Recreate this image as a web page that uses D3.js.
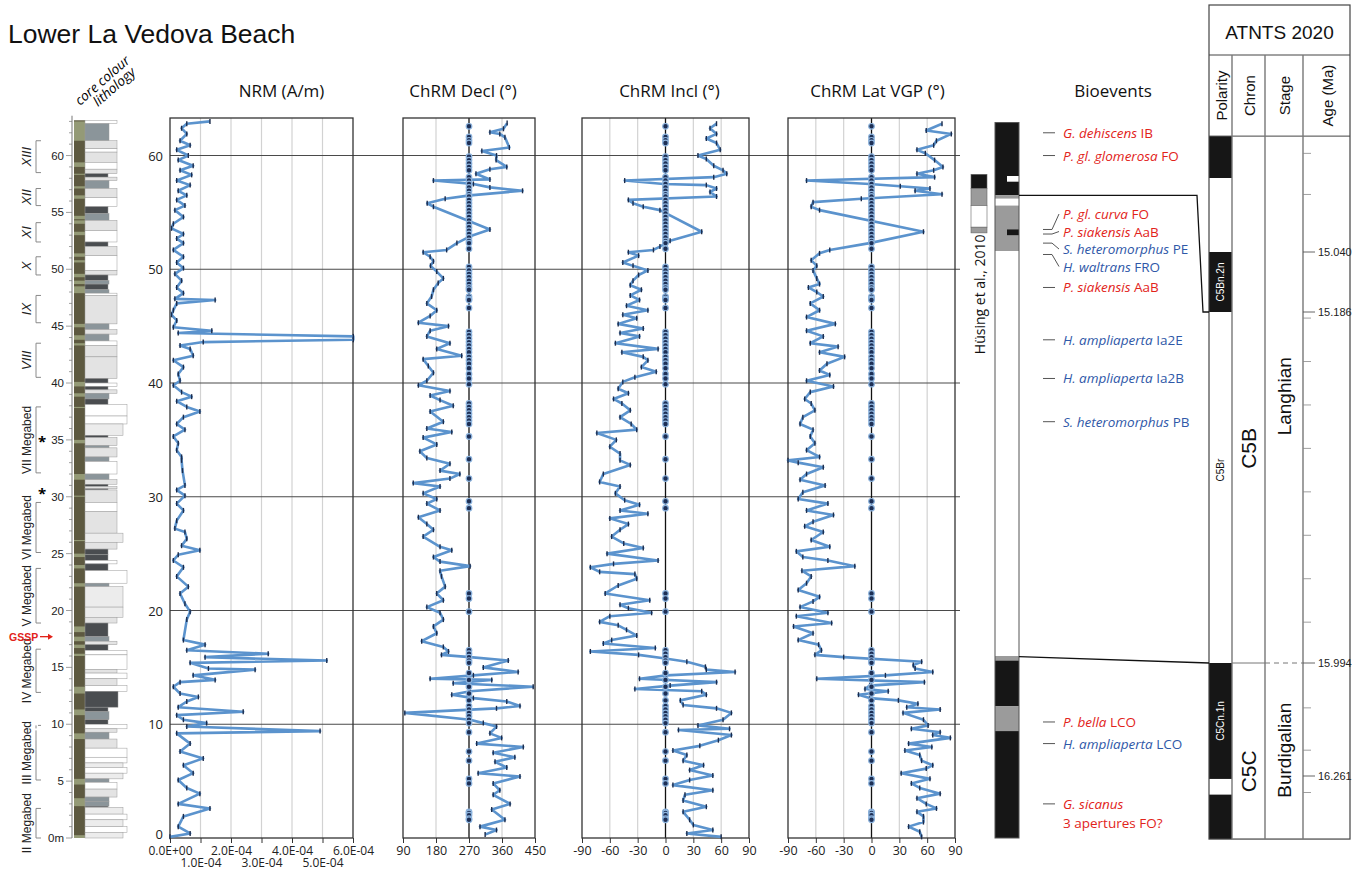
<!DOCTYPE html>
<html>
<head>
<meta charset="utf-8">
<title>Lower La Vedova Beach</title>
<script src="https://cdn.jsdelivr.net/npm/d3@7"></script>
<style>
	body { margin: 0; background: #fff; }
	svg { display: block; }
</style>
</head>
<body>
<div id="chart"></div>
<script>
// [stratigraphic height (m), value]
const nrm = [[63.0,13.1e-5],[62.8,5.5e-5],[62.4,3.8e-5],[61.9,5.5e-5],[61.3,3.3e-5],[60.9,6.6e-5],[60.5,2.2e-5],[60.0,6.0e-5],[59.6,2.7e-5],[59.1,7.6e-5],[58.7,3.3e-5],[58.3,7.1e-5],[57.8,2.2e-5],[57.4,6.6e-5],[56.9,2.7e-5],[56.5,5.5e-5],[56.1,2.2e-5],[55.6,4.9e-5],[55.2,1.6e-5],[54.6,4.4e-5],[54.0,1.1e-5],[53.6,0.5e-5],[53.1,4.4e-5],[52.7,2.2e-5],[52.3,4.4e-5],[51.7,1.1e-5],[51.1,4.4e-5],[50.6,2.2e-5],[50.1,4.4e-5],[49.6,1.6e-5],[49.0,3.8e-5],[48.4,2.2e-5],[47.9,4.4e-5],[47.4,1.6e-5],[47.3,14.8e-5],[47.0,2.2e-5],[46.4,1.1e-5],[46.0,0.5e-5],[45.5,2.2e-5],[44.9,1.1e-5],[44.6,13.7e-5],[44.4,2.7e-5],[44.1,60.1e-5],[43.8,60.1e-5],[43.6,10.9e-5],[43.3,3.3e-5],[43.0,6.6e-5],[42.4,7.6e-5],[42.0,1.1e-5],[41.4,4.4e-5],[40.8,2.7e-5],[40.2,3.3e-5],[39.8,1.1e-5],[39.2,3.8e-5],[38.8,7.1e-5],[38.4,2.2e-5],[37.9,5.5e-5],[37.5,9.8e-5],[37.0,4.4e-5],[36.4,2.2e-5],[35.9,4.9e-5],[35.3,1.1e-5],[34.7,2.7e-5],[34.1,2.2e-5],[33.5,3.8e-5],[33.2,3.8e-5],[32.3,4.1e-5],[31.0,4.9e-5],[30.6,2.2e-5],[30.1,4.9e-5],[29.4,2.2e-5],[28.8,4.4e-5],[27.9,2.2e-5],[27.2,1.6e-5],[26.9,4.9e-5],[26.3,5.5e-5],[25.7,3.8e-5],[25.3,9.8e-5],[24.9,2.7e-5],[24.4,1.1e-5],[23.8,4.4e-5],[23.0,2.2e-5],[22.1,6.0e-5],[21.5,3.3e-5],[20.6,4.9e-5],[19.9,6.6e-5],[19.2,5.5e-5],[17.4,4.4e-5],[17.0,11.5e-5],[16.5,5.5e-5],[16.2,32.2e-5],[15.9,11.5e-5],[15.6,51.4e-5],[15.4,6.6e-5],[14.9,12.6e-5],[14.8,27.9e-5],[14.3,7.6e-5],[13.9,14.8e-5],[13.7,3.3e-5],[13.3,1.1e-5],[12.7,3.3e-5],[12.4,9.3e-5],[12.0,5.5e-5],[11.5,2.7e-5],[11.1,24.0e-5],[10.8,2.2e-5],[10.4,4.4e-5],[10.1,12.0e-5],[9.8,5.5e-5],[9.4,49.2e-5],[9.2,2.2e-5],[8.3,6.6e-5],[7.6,3.3e-5],[7.0,10.9e-5],[6.4,4.4e-5],[5.7,7.6e-5],[5.1,2.7e-5],[4.4,5.5e-5],[3.9,9.8e-5],[3.0,2.7e-5],[2.6,13.1e-5],[1.9,4.4e-5],[1.0,2.7e-5],[0.4,6.6e-5],[0.1,0]];

const decl = [[62.85,374],[62.35,364],[62.05,327],[61.9,354],[61.6,368],[60.7,380],[60.4,305],[60.0,345],[59.6,344],[59.0,373],[58.8,327],[58.4,289],[57.9,327],[57.8,173],[57.5,282],[57.2,327],[56.9,416],[56.5,273],[56.2,205],[55.8,156],[55.5,173],[53.5,327],[52.9,273],[52.3,237],[51.7,209],[51.5,145],[51.1,164],[50.7,173],[50.3,165],[49.8,182],[49.2,200],[48.8,186],[48.2,173],[47.6,168],[47.0,155],[46.4,182],[45.9,164],[45.3,132],[45.0,214],[44.6,164],[44.1,155],[43.5,218],[43.0,182],[42.4,250],[42.1,145],[41.5,159],[40.9,173],[40.2,155],[39.8,132],[39.3,218],[38.9,164],[38.5,191],[38.0,227],[37.5,164],[36.6,200],[36.0,155],[35.7,223],[35.2,145],[34.6,182],[34.0,136],[33.4,155],[32.9,218],[32.3,191],[32.0,245],[31.6,218],[31.2,118],[30.9,191],[30.3,145],[29.8,182],[29.4,155],[28.8,191],[28.2,132],[27.6,155],[27.1,173],[26.5,145],[25.6,191],[25.3,223],[24.7,173],[24.3,191],[23.9,273],[23.5,191],[23.0,195],[22.1,205],[21.5,182],[20.9,200],[20.3,155],[19.8,191],[19.2,200],[18.6,173],[18.0,182],[17.3,141],[16.8,200],[16.4,214],[16.1,195],[15.9,273],[15.6,377],[15.0,309],[14.6,404],[14.3,282],[14.0,164],[13.9,332],[13.6,227],[13.3,445],[12.9,273],[12.6,223],[12.3,282],[12.0,373],[11.6,409],[11.4,345],[11.0,95],[10.4,273],[10.1,309],[9.8,345],[9.2,327],[8.8,359],[8.3,291],[8.0,418],[7.5,336],[7.1,395],[6.7,341],[6.2,373],[5.7,295],[5.4,409],[4.8,336],[4.2,354],[3.8,336],[3.0,382],[2.5,332],[1.6,368],[1.0,300],[0.7,345],[0.3,314]];

const incl = [[62.8,55],[62.4,48],[61.9,55],[61.5,44],[61.1,55],[60.5,59],[60.0,35],[59.7,44],[59.1,52],[58.7,62],[58.4,66],[58.1,52],[57.8,-44],[57.5,-2],[57.4,44],[57.1,55],[56.8,48],[56.4,55],[56.1,-40],[55.8,-35],[55.5,-24],[55.2,-6],[53.3,39],[52.5,5],[52.0,-6],[51.7,-13],[51.5,-40],[51.2,-29],[50.6,-46],[50.3,-35],[49.9,-19],[49.5,-29],[49.0,-35],[48.6,-38],[48.2,-26],[47.7,-38],[47.3,-28],[46.8,-42],[46.4,-19],[46.0,-46],[45.7,-31],[45.2,-51],[44.8,-24],[44.4,-49],[44.1,-28],[43.5,-54],[43.0,-8],[42.7,-47],[42.3,-24],[42.0,-19],[41.4,-26],[41.0,-10],[40.5,-33],[40.1,-46],[39.5,-51],[39.1,-40],[38.6,-56],[38.2,-47],[37.6,-38],[37.0,-49],[36.4,-37],[35.9,-31],[35.6,-74],[35.0,-53],[34.4,-60],[33.8,-49],[33.2,-49],[32.8,-38],[32.0,-67],[31.3,-71],[30.9,-49],[30.3,-54],[29.7,-44],[29.3,-28],[28.8,-49],[28.5,-19],[28.1,-60],[27.6,-40],[27.1,-49],[26.5,-58],[25.9,-45],[25.5,-24],[25.0,-63],[24.4,-8],[24.1,-56],[23.8,-81],[23.4,-71],[23.2,-33],[22.8,-31],[22.2,-51],[21.5,-65],[20.9,-17],[20.5,-49],[20.2,-40],[19.8,-15],[19.5,-60],[19.0,-71],[18.7,-51],[18.3,-42],[17.8,-31],[17.4,-58],[17.1,-67],[16.7,-11],[16.4,-81],[16.1,-29],[15.8,-2],[15.5,23],[15.05,43],[14.8,44],[14.6,75],[14.3,1],[14.0,-28],[13.7,55],[13.4,5],[13.1,-33],[12.9,39],[12.6,44],[12.1,16],[11.7,19],[11.4,55],[11.0,71],[10.4,62],[9.9,35],[9.6,69],[9.5,14],[9.05,71],[8.6,57],[8.1,37],[7.7,8],[7.3,23],[6.8,19],[6.4,41],[5.97,26],[5.5,51],[5.1,26],[4.65,8],[4.2,51],[3.8,21],[3.3,19],[2.75,44],[2.3,19],[1.6,26],[1.15,30],[0.7,51],[0.4,23],[0.1,60]];

const vgp = [[62.8,76],[62.2,59],[61.9,86],[61.3,70],[60.9,67],[60.5,49],[60.2,58],[59.6,68],[59.0,77],[58.7,67],[58.4,49],[58.1,68],[57.8,-70],[57.5,-2],[57.3,31],[57.1,63],[56.9,47],[56.6,76],[56.2,-11],[55.9,-63],[55.5,-65],[55.2,-56],[53.3,56],[52.3,-2],[51.7,-45],[51.4,-56],[50.8,-65],[50.3,-59],[49.9,-63],[49.2,-59],[48.7,-56],[48.4,-68],[48.0,-59],[47.6,-52],[47.0,-66],[46.4,-56],[45.8,-70],[45.2,-39],[44.6,-70],[44.1,-52],[43.5,-66],[43.2,-36],[42.7,-56],[42.3,-29],[41.7,-48],[41.1,-56],[40.7,-45],[40.2,-70],[39.7,-41],[39.2,-66],[38.6,-72],[38.2,-65],[37.6,-61],[37.0,-74],[36.4,-77],[35.9,-63],[35.3,-66],[34.7,-61],[34.1,-70],[33.5,-56],[33.2,-90],[33.0,-79],[32.6,-52],[32.0,-70],[31.5,-77],[31.0,-50],[30.4,-74],[29.8,-79],[29.4,-47],[28.8,-70],[28.4,-41],[27.8,-63],[27.4,-72],[26.9,-52],[26.2,-65],[25.6,-45],[25.2,-81],[24.7,-74],[24.4,-47],[23.9,-18],[23.5,-75],[23.0,-65],[22.4,-70],[21.8,-79],[21.2,-56],[20.8,-63],[20.3,-77],[19.8,-47],[19.5,-81],[18.9,-43],[18.6,-84],[18.0,-63],[17.4,-79],[17.0,-57],[16.5,-54],[16.1,-61],[15.9,-30],[15.5,54],[15.2,45],[14.9,47],[14.6,66],[14.3,15],[14.0,-59],[13.7,57],[13.4,-2],[13.1,-7],[12.9,18],[12.6,-14],[12.3,-2],[12.1,29],[11.8,50],[11.5,38],[11.3,74],[11.0,34],[10.4,56],[9.9,61],[9.6,43],[9.3,74],[9.05,66],[8.8,85],[8.3,40],[8.0,65],[7.7,36],[7.3,52],[6.8,54],[6.4,66],[6.1,59],[5.7,32],[5.2,63],[4.8,43],[4.4,52],[3.9,74],[3.5,49],[3.0,59],[2.6,70],[2.3,49],[1.9,56],[1.4,56],[1.0,40],[0.55,52],[0.1,54]];

// levels without a ChRM, plotted on the centre line
const noChrm = [62.57,61.63,61.34,61.1,59.9,59.6,59.3,59.0,58.7,58.1,57.8,57.5,57.2,56.9,56.6,56.4,56.1,55.8,55.5,55.2,54.9,54.6,54.3,54.0,53.7,53.4,53.1,52.8,52.5,52.3,51.8,50.2,49.9,49.6,49.3,49.0,48.7,48.4,48.2,47.6,47.4,47.3,46.6,44.5,44.2,43.9,43.6,43.3,43.0,42.7,42.3,42.0,41.7,41.3,40.8,40.4,39.9,38.2,37.9,37.6,37.3,37.0,36.7,36.4,35.3,33.3,31.6,29.6,29.0,21.5,21.05,19.9,16.5,16.2,15.9,15.6,15.4,14.5,13.9,13.3,12.7,12.1,11.6,11.3,11.0,10.7,10.4,10.1,9.3,7.6,6.8,5.2,4.8,2.3,2.2,2.0,1.7,1.6];

const depthGrid = [10, 20, 30, 40, 50, 60];
const nrmTicks = [0, 1e-4, 2e-4, 3e-4, 4e-4, 5e-4, 6e-4];
const declTicks = [90, 180, 270, 360, 450];
const dirTicks = [-90, -60, -30, 0, 30, 60, 90];

// lithology: [top, base, type]
const lithology = [[63.1,62.8,"L"],[62.8,61.3,"G"],[61.3,60.6,"M"],[60.6,60.3,"L"],[60.3,59.4,"M"],[59.4,58.8,"L"],[58.8,58.4,"M"],[58.4,58.1,"S"],[58.1,57.8,"M"],[57.8,57.1,"G"],[57.1,56.3,"M"],[56.3,55.5,"L"],[55.5,54.9,"S"],[54.9,54.3,"G"],[54.3,53.4,"M"],[53.4,52.4,"L"],[52.4,52.0,"S"],[52.0,51.2,"M"],[51.2,49.9,"L"],[49.9,49.5,"M"],[49.5,49.0,"S"],[49.0,48.7,"G"],[48.7,48.2,"S"],[48.2,47.9,"G"],[47.9,47.7,"L"],[47.7,45.2,"M"],[45.2,44.7,"G"],[44.7,44.3,"M"],[44.3,43.7,"G"],[43.7,43.3,"L"],[43.3,42.3,"M"],[42.3,40.4,"M"],[40.4,40.0,"S"],[40.0,39.7,"L"],[39.7,39.4,"S"],[39.4,39.1,"M"],[39.1,38.6,"G"],[38.6,38.1,"S"],[38.1,37.1,"H"],[37.1,36.4,"H"],[36.4,35.4,"K"],[35.4,35.2,"S"],[35.2,34.5,"M"],[34.5,34.3,"G"],[34.3,33.5,"M"],[33.5,33.1,"G"],[33.1,32.0,"L"],[32.0,31.5,"G"],[31.5,31.1,"M"],[31.1,30.9,"S"],[30.9,30.7,"M"],[30.7,30.6,"S"],[30.6,29.5,"M"],[29.5,28.7,"L"],[28.7,26.8,"M"],[26.8,26.0,"K"],[26.0,25.4,"M"],[25.4,24.9,"S"],[24.9,24.4,"S"],[24.4,24.1,"L"],[24.1,23.5,"S"],[23.5,22.4,"H"],[22.4,22.1,"G"],[22.1,20.3,"K"],[20.3,19.4,"K"],[19.4,18.9,"M"],[18.9,17.7,"S"],[17.7,17.3,"G"],[17.3,17.0,"M"],[17.0,16.5,"S"],[16.5,16.1,"H"],[16.1,14.8,"H"],[14.8,14.5,"M"],[14.5,14.0,"H"],[14.0,13.4,"M"],[13.4,12.9,"H"],[12.9,11.5,"D"],[11.5,11.1,"S"],[11.1,10.4,"G"],[10.4,10.0,"S"],[10.0,9.6,"H"],[9.6,9.3,"M"],[9.3,8.7,"G"],[8.7,7.9,"M"],[7.9,7.1,"H"],[7.1,6.6,"H"],[6.6,6.2,"K"],[6.2,5.7,"H"],[5.7,5.2,"K"],[5.2,4.9,"G"],[4.9,4.3,"L"],[4.3,3.6,"M"],[3.6,3.2,"G"],[3.2,2.8,"G"],[2.8,2.7,"S"],[2.7,2.1,"K"],[2.1,1.6,"H"],[1.6,1.0,"K"],[1.0,0.5,"H"],[0.5,0.0,"K"]];
const litTypes = ["S", "D", "G", "M", "L", "K", "H"];

// light bands in the core colour log
const coreBands = [[63.0,61.3],[59.4,59.0],[58.4,58.3],[57.3,57.1],[56.5,56.2],[54.7,54.4],[54.3,54.0],[53.3,53.0],[51.4,51.1],[50.8,50.6],[49.6,49.3],[49.0,48.7],[48.5,47.9],[45.2,44.9],[44.2,43.8],[43.5,43.3],[40.1,39.7],[39.1,38.8],[37.9,37.8],[35.0,34.7],[32.0,31.5],[30.1,30.0],[26.2,26.1],[25.0,24.7],[24.0,23.7],[22.4,22.1],[18.6,18.1],[17.7,17.3],[17.0,16.7],[16.2,16.0],[13.3,12.7],[11.3,10.8],[9.2,8.7],[5.2,4.7],[3.5,2.8],[0.25,0.0]];

const megabeds = [["XIII",61.3,58.5],["XII",57.1,55.6],["XI",54.1,52.4],["X",51.1,49.5],["IX",47.7,45.3],["VIII",43.5,40.5],["VII Megabed",37.9,32.1],["VI Megabed",29.5,25.1],["V Megabed",23.7,18.9],["IV Megabed",16.6,12.8],["III Megabed",9.9,5.1],["II Megabed",2.6,0.0]];
const asterisks = [35.2, 30.6];
const gsspLevel = 17.7;

// bioevents
const bioTaxa = ["G. dehiscens", "P. gl. glomerosa", "P. gl. curva", "P. siakensis", "S. heteromorphus", "H. waltrans", "P. siakensis", "H. ampliaperta", "H. ampliaperta", "S. heteromorphus", "P. bella", "H. ampliaperta", "G. sicanus"];
const bioCodes = ["IB", "FO", "FO", "AaB", "PE", "FRO", "AaB", "Ia2E", "Ia2B", "PB", "LCO", "LCO", "\n3 apertures FO?"];
const bioGroups = ["foram", "foram", "foram", "foram", "nanno", "nanno", "foram", "nanno", "nanno", "nanno", "foram", "nanno", "foram"];
const bioDepths = [62.0, 60.0, 53.5, 53.1, 52.3, 51.3, 48.4, 43.8, 40.4, 36.6, 10.2, 8.3, 3.0];

// magnetostratigraphic interpretation of the section: [top, base, state]
const sectionPolarity = [[62.9,56.5,"n"],[56.5,56.2,"t"],[56.2,55.6,"r"],[55.6,51.6,"t"],[51.6,16.0,"r"],[16.0,15.6,"t"],[15.6,11.6,"n"],[11.6,9.4,"t"],[9.4,0.0,"n"]];
const sectionNotches = [[58.2,57.7,"r"],[53.5,53.0,"n"]];
const husing2010 = [[58.35,57.1,"n"],[57.1,55.6,"t"],[55.6,53.7,"r"],[53.7,53.2,"t"]];

// ATNTS 2020: [top age, base age, state, label]
const atntsChrons = [[14.758,14.86,"n",""],[14.86,15.040,"r",""],[15.040,15.186,"n","C5Bn.2n"],[15.186,15.994,"r","C5Br"],[15.994,16.268,"n","C5Cn.1n"],[16.268,16.305,"r",""],[16.305,16.41,"n",""]];
const chronNames = [["C5B", 14.758, 15.994, 15.5], ["C5C", 15.994, 16.41, 16.25]];
const stageNames = [["Langhian", 14.758, 15.994, 15.38], ["Burdigalian", 15.994, 16.41, 16.2]];
const ageLabels = [15.040, 15.186, 15.994, 16.261];
const ageMinor = [14.8, 14.9, 15.2, 15.3, 15.4, 15.5, 15.6, 15.7, 15.8, 15.9, 16.1, 16.2, 16.3];
const tieSection = [56.5, 15.95];
const tieAge = [15.186, 15.994];

const svg = d3.select("#chart")
	.append("svg")
		.attr("width", 1355)
		.attr("height", 872)
		.style("font-family", "'Open Sans', sans-serif");

const y = d3.scaleLinear().domain([0, 63.3]).range([838, 118]);
const plotTop = y.range()[1], plotBottom = y.range()[0];

function sciFormat(v){
	if(v === 0) return "0.0E+00";
	const e = Math.floor(Math.log10(v) + 1e-9);
	const m = v / Math.pow(10, e);
	return m.toFixed(1) + "E" + (e < 0 ? "-" : "+") + String(Math.abs(e)).padStart(2, "0");
}

const panels = [
	{title: "NRM (A/m)", data: nrm, x: d3.scaleLinear().domain([0, 6e-4]).range([170, 353]), ticks: nrmTicks, center: null, format: sciFormat, titleShift: 20},
	{title: "ChRM Decl (°)", data: decl, x: d3.scaleLinear().domain([90, 450]).range([403, 535]), ticks: declTicks, center: 270, format: String, titleShift: -6},
	{title: "ChRM Incl (°)", data: incl, x: d3.scaleLinear().domain([-90, 90]).range([582, 749]), ticks: dirTicks, center: 0, format: String, titleShift: 4},
	{title: "ChRM Lat VGP (°)", data: vgp, x: d3.scaleLinear().domain([-90, 90]).range([788, 955]), ticks: dirTicks, center: 0, format: String, titleShift: 6}
];

// light vertical grid
panels.forEach(function(p){
	svg.append("g")
		.selectAll("line")
		.data(p.ticks.slice(1, -1).filter(t => t !== p.center))
		.join("line")
			.attr("x1", d => p.x(d))
			.attr("x2", d => p.x(d))
			.attr("y1", plotTop)
			.attr("y2", plotBottom)
			.style("stroke", "#d2d2d2")
			.style("stroke-width", 1.2);
});

// depth grid running through all panels
svg.append("g")
	.selectAll("line")
	.data(depthGrid)
	.join("line")
		.attr("x1", panels[0].x.range()[0])
		.attr("x2", 960)
		.attr("y1", d => y(d))
		.attr("y2", d => y(d))
		.style("stroke", "#4a4a4a")
		.style("stroke-width", 1.1);

svg.append("g")
	.selectAll("text")
	.data([0].concat(depthGrid))
	.join("text")
		.attr("x", 163)
		.attr("y", d => d === 0 ? y(d) + 1 : y(d) + 5)
		.attr("text-anchor", "end")
		.style("font-size", "13px")
		.style("fill", "#222")
		.text(d => d);

panels.forEach(function(p){
	const g = svg.append("g").attr("class", "panel");
	const [x0, x1] = p.x.range();

	if(p.center !== null){
		g.append("line")
			.attr("x1", p.x(p.center))
			.attr("x2", p.x(p.center))
			.attr("y1", plotTop)
			.attr("y2", plotBottom)
			.style("stroke", "#111")
			.style("stroke-width", 1.3);
	}

	g.append("rect")
		.attr("x", x0)
		.attr("y", plotTop)
		.attr("width", x1 - x0)
		.attr("height", plotBottom - plotTop)
		.style("fill", "none")
		.style("stroke", "#333")
		.style("stroke-width", 1.3);

	const line = d3.line()
		.x(d => p.x(d[1]))
		.y(d => y(d[0]));

	g.append("path")
		.datum(p.data)
		.attr("d", line)
		.style("fill", "none")
		.style("stroke", "#5b93cd")
		.style("stroke-width", 2.6)
		.style("stroke-linejoin", "round");

	// sample markers
	g.append("g")
		.selectAll("line")
		.data(p.data)
		.join("line")
			.attr("x1", d => p.x(d[1]))
			.attr("x2", d => p.x(d[1]))
			.attr("y1", d => y(d[0]) - 2.5)
			.attr("y2", d => y(d[0]) + 2.5)
			.style("stroke", "#1b2b4b")
			.style("stroke-width", 1.4);

	if(p.center !== null){
		g.append("g")
			.selectAll("circle")
			.data(noChrm)
			.join("circle")
				.attr("cx", p.x(p.center))
				.attr("cy", d => y(d))
				.attr("r", 2.8)
				.style("fill", "#1d2f55")
				.style("stroke", "#8db4de")
				.style("stroke-width", 1.2);
	}

	const axis = g.append("g")
		.attr("transform", `translate(0, ${plotBottom})`)
		.call(d3.axisBottom(p.x).tickValues(p.ticks).tickSize(5).tickPadding(3).tickFormat(p.format));
	axis.select(".domain").remove();
	axis.selectAll(".tick line").style("stroke", "#333");
	axis.selectAll(".tick text")
		.style("font-family", "'Open Sans', sans-serif")
		.style("font-size", p.center === null ? "12px" : "12.5px")
		.style("fill", "#222");
	if(p.center === null){
		// staggered two-row labels
		axis.selectAll(".tick text")
			.attr("dy", (d, i) => i % 2 ? "1.75em" : "0.71em");
	}

	g.append("text")
		.attr("x", (x0 + x1) / 2 + p.titleShift)
		.attr("y", 97)
		.attr("text-anchor", "middle")
		.style("font-size", "17px")
		.style("fill", "#111")
		.text(p.title);
});

// ---------- left: core log ----------
svg.append("text")
	.attr("x", 8)
	.attr("y", 43)
	.style("font-family", "'Liberation Sans', Arial, sans-serif")
	.style("font-size", "26.5px")
	.style("fill", "#111")
	.text("Lower La Vedova Beach");

const litFill = d3.scaleOrdinal().domain(litTypes).range(["#4a4d50", "#4a4d50", "#8b959a", "#e3e3e3", "#ffffff", "#ececec", "#ffffff"]);
const litWidth = d3.scaleOrdinal().domain(litTypes).range([23, 33, 24, 32, 32, 38, 42]);
const coreX = 74, coreW = 11, litX = 85;

svg.append("rect")
	.attr("x", coreX)
	.attr("y", y(63.1))
	.attr("width", coreW)
	.attr("height", y(0) - y(63.1))
	.style("fill", "#5d5940");

svg.append("g")
	.selectAll("rect")
	.data(coreBands)
	.join("rect")
		.attr("x", coreX)
		.attr("y", d => y(d[0]))
		.attr("width", coreW)
		.attr("height", d => Math.max(1, y(d[1]) - y(d[0])))
		.style("fill", "#949a76");

svg.append("g")
	.selectAll("rect")
	.data(lithology)
	.join("rect")
		.attr("x", litX)
		.attr("y", d => y(d[0]))
		.attr("width", d => litWidth(d[2]))
		.attr("height", d => y(d[1]) - y(d[0]))
		.style("fill", d => litFill(d[2]))
		.style("stroke", "#9a9a9a")
		.style("stroke-width", 0.5);

// height axis of the log
const logAxis = svg.append("g");
logAxis.append("line")
	.attr("x1", 72).attr("x2", 72)
	.attr("y1", y(63.5)).attr("y2", y(0))
	.style("stroke", "#777");
logAxis.selectAll(".minor")
	.data(d3.range(0, 64))
	.join("line")
		.attr("class", "minor")
		.attr("x1", d => d % 5 === 0 ? 66 : 69)
		.attr("x2", 72)
		.attr("y1", d => y(d))
		.attr("y2", d => y(d))
		.style("stroke", "#777")
		.style("stroke-width", 0.7);
logAxis.selectAll("text")
	.data(d3.range(0, 61, 5))
	.join("text")
		.attr("x", 64)
		.attr("y", d => y(d) + 4)
		.attr("text-anchor", "end")
		.style("font-family", "'Liberation Sans', Arial, sans-serif")
		.style("font-size", "11.5px")
		.style("fill", "#222")
		.text(d => d === 0 ? "0m" : d);

// column headers
svg.append("text")
	.attr("transform", "translate(80,106) rotate(-41)")
	.style("font-size", "13.5px")
	.style("font-style", "italic")
	.text("core colour");
svg.append("text")
	.attr("transform", "translate(98,107) rotate(-41)")
	.style("font-size", "13.5px")
	.style("font-style", "italic")
	.text("lithology");

// megabed brackets
const mb = svg.append("g").selectAll("g").data(megabeds).join("g");
mb.append("path")
	.attr("d", d => `M41,${y(d[1])}H36V${y(d[2])}H41`)
	.style("fill", "none")
	.style("stroke", "#8a8a8a")
	.style("stroke-dasharray", d => d[0] === "III Megabed" ? "3,2,3,2,400" : null);
mb.append("text")
	.attr("transform", d => `translate(31,${(y(d[1]) + y(d[2])) / 2}) rotate(-90)`)
	.attr("text-anchor", "middle")
	.style("font-family", "'Liberation Sans Narrow', 'Liberation Sans', Arial, sans-serif")
	.style("font-size", d => d[0].length > 5 ? "12px" : "13px")
	.style("font-style", d => d[0].length > 5 ? "normal" : "italic")
	.style("fill", "#222")
	.text(d => d[0]);

svg.append("g")
	.selectAll("text")
	.data(asterisks)
	.join("text")
		.attr("x", 42)
		.attr("y", d => y(d) + 9)
		.attr("text-anchor", "middle")
		.style("font-size", "15px")
		.style("font-weight", "bold")
		.text("*");

svg.append("text")
	.attr("x", 9)
	.attr("y", y(gsspLevel) + 4)
	.style("font-family", "'Liberation Sans', Arial, sans-serif")
	.style("font-size", "10.5px")
	.style("font-weight", "bold")
	.style("fill", "#e2231a")
	.text("GSSP");
svg.append("path")
	.attr("d", `M40,${y(gsspLevel)}H49`)
	.style("stroke", "#e2231a")
	.style("stroke-width", 1.3);
svg.append("path")
	.attr("d", `M53,${y(gsspLevel)}l-5,-3v6z`)
	.style("fill", "#e2231a");

// ---------- bioevents & section polarity ----------
const polFill = d3.scaleOrdinal().domain(["n", "r", "t"]).range(["#161616", "#ffffff", "#9b9b9b"]);
const colX = 995, colW = 24;

svg.append("g")
	.selectAll("rect")
	.data(sectionPolarity)
	.join("rect")
		.attr("x", colX)
		.attr("y", d => y(d[0]))
		.attr("width", colW)
		.attr("height", d => y(d[1]) - y(d[0]))
		.style("fill", d => polFill(d[2]));
svg.append("g")
	.selectAll("rect")
	.data(sectionNotches)
	.join("rect")
		.attr("x", colX + colW / 2)
		.attr("y", d => y(d[0]))
		.attr("width", colW / 2)
		.attr("height", d => y(d[1]) - y(d[0]))
		.style("fill", d => polFill(d[2]));
svg.append("rect")
	.attr("x", colX)
	.attr("y", y(62.9))
	.attr("width", colW)
	.attr("height", y(0) - y(62.9))
	.style("fill", "none")
	.style("stroke", "#555")
	.style("stroke-width", 1);

const husX = 971, husW = 16;
svg.append("g")
	.selectAll("rect")
	.data(husing2010)
	.join("rect")
		.attr("x", husX)
		.attr("y", d => y(d[0]))
		.attr("width", husW)
		.attr("height", d => y(d[1]) - y(d[0]))
		.style("fill", d => polFill(d[2]))
		.style("stroke", "#666")
		.style("stroke-width", 0.6);
svg.append("text")
	.attr("transform", `translate(985,${y(47.8)}) rotate(-90)`)
	.attr("text-anchor", "middle")
	.style("font-size", "14px")
	.style("fill", "#111")
	.text("Hüsing et al., 2010");

svg.append("text")
	.attr("x", 1113)
	.attr("y", 97)
	.attr("text-anchor", "middle")
	.style("font-size", "17px")
	.style("fill", "#111")
	.text("Bioevents");

// spread clustered labels apart, keeping their leaders at the event level
const bioColor = d3.scaleOrdinal().domain(["foram", "nanno"]).range(["#e2231a", "#2f58a8"]);
const minGap = 17.5;
const leaderY = bioDepths.map(d => y(d));
const labelY = leaderY.slice();
for(let k = 0; k < 80; k++){
	for(let i = 1; i < labelY.length; i++){
		const gap = labelY[i] - labelY[i - 1];
		if(gap < minGap){
			const shift = (minGap - gap) / 2;
			labelY[i - 1] -= shift;
			labelY[i] += shift;
		}
	}
}

const bio = svg.append("g").selectAll("g").data(bioTaxa).join("g");
bio.append("path")
	.attr("d", (d, i) => Math.abs(labelY[i] - leaderY[i]) < 2
		? `M1043,${leaderY[i]}H1055`
		: `M1043,${leaderY[i]}H1052L1059,${labelY[i]}`)
	.style("fill", "none")
	.style("stroke", "#555")
	.style("stroke-width", 1);
const bioText = bio.append("text")
	.attr("x", 1063)
	.attr("y", (d, i) => labelY[i] + 5)
	.style("font-size", "13.5px")
	.style("fill", (d, i) => bioColor(bioGroups[i]));
bioText.append("tspan")
	.style("font-style", "italic")
	.text(d => d);
bioText.each(function(d, i){
	const parts = bioCodes[i].split("\n");
	const t = d3.select(this);
	if(parts[0]) t.append("tspan").text(" " + parts[0]);
	if(parts[1]) t.append("tspan").attr("x", 1063).attr("dy", 19).text(parts[1]);
});

// ---------- ATNTS 2020 ----------
const ageY = d3.scaleLinear().domain([15.040, 15.186, 15.994, 16.261]).range([252, 312, 663, 776]);
const cols = [1209, 1232, 1265, 1303, 1350];
const tblTop = 5, tblHead = 55, tblBody = ageY(14.758), tblBottom = ageY(16.41);
const tbl = svg.append("g").style("font-family", "'Liberation Sans', Arial, sans-serif");

tbl.selectAll(".chron")
	.data(atntsChrons)
	.join("rect")
		.attr("class", "chron")
		.attr("x", cols[0])
		.attr("y", d => ageY(d[0]))
		.attr("width", cols[1] - cols[0])
		.attr("height", d => ageY(d[1]) - ageY(d[0]))
		.style("fill", d => polFill(d[2]));
tbl.selectAll(".chron-label")
	.data(atntsChrons.filter(d => d[3]))
	.join("text")
		.attr("class", "chron-label")
		.attr("transform", d => `translate(${(cols[0] + cols[1]) / 2 + 3.5},${d[3] === "C5Br" ? ageY(15.55) : (ageY(d[0]) + ageY(d[1])) / 2}) rotate(-90)`)
		.attr("text-anchor", "middle")
		.style("font-size", "10px")
		.style("fill", d => d[2] === "n" ? "#fff" : "#111")
		.text(d => d[3]);

tbl.append("rect")
	.attr("x", cols[0])
	.attr("y", tblTop)
	.attr("width", cols[4] - cols[0])
	.attr("height", tblBottom - tblTop)
	.style("fill", "none")
	.style("stroke", "#444")
	.style("stroke-width", 1.2);
tbl.selectAll(".hline")
	.data([tblHead, tblBody])
	.join("line")
		.attr("class", "hline")
		.attr("x1", cols[0]).attr("x2", cols[4])
		.attr("y1", d => d).attr("y2", d => d)
		.style("stroke", "#444");
tbl.selectAll(".vline")
	.data(cols.slice(1, -1))
	.join("line")
		.attr("class", "vline")
		.attr("x1", d => d).attr("x2", d => d)
		.attr("y1", tblHead).attr("y2", tblBottom)
		.style("stroke", "#777")
		.style("stroke-width", 1.4);

tbl.append("text")
	.attr("x", (cols[0] + cols[4]) / 2)
	.attr("y", 39)
	.attr("text-anchor", "middle")
	.style("font-size", "19px")
	.style("fill", "#111")
	.text("ATNTS 2020");
tbl.selectAll(".colhead")
	.data(["Polarity", "Chron", "Stage", "Age (Ma)"])
	.join("text")
		.attr("class", "colhead")
		.attr("transform", (d, i) => `translate(${(cols[i] + cols[i + 1]) / 2 + 6},${(tblHead + tblBody) / 2}) rotate(-90)`)
		.attr("text-anchor", "middle")
		.style("font-size", "15px")
		.style("fill", "#111")
		.text(d => d);

// chron / stage boundary
tbl.append("line")
	.attr("x1", cols[1]).attr("x2", cols[2])
	.attr("y1", ageY(15.994)).attr("y2", ageY(15.994))
	.style("stroke", "#777");
tbl.append("line")
	.attr("x1", cols[2]).attr("x2", cols[3])
	.attr("y1", ageY(15.994)).attr("y2", ageY(15.994))
	.style("stroke", "#777")
	.style("stroke-dasharray", "5,4");

tbl.selectAll(".chron-name")
	.data(chronNames)
	.join("text")
		.attr("class", "chron-name")
		.attr("transform", d => `translate(${(cols[1] + cols[2]) / 2 + 7},${ageY(d[3])}) rotate(-90)`)
		.attr("text-anchor", "middle")
		.style("font-size", "21px")
		.style("fill", "#111")
		.text(d => d[0]);
tbl.selectAll(".stage-name")
	.data(stageNames)
	.join("text")
		.attr("class", "stage-name")
		.attr("transform", d => `translate(${(cols[2] + cols[3]) / 2 + 7},${ageY(d[3])}) rotate(-90)`)
		.attr("text-anchor", "middle")
		.style("font-size", "19px")
		.style("fill", "#111")
		.text(d => d[0]);

tbl.selectAll(".age-minor")
	.data(ageMinor)
	.join("line")
		.attr("class", "age-minor")
		.attr("x1", cols[3]).attr("x2", cols[3] + 8)
		.attr("y1", d => ageY(d)).attr("y2", d => ageY(d))
		.style("stroke", "#888")
		.style("stroke-width", 0.8);
tbl.selectAll(".age-major")
	.data(ageLabels)
	.join("line")
		.attr("class", "age-major")
		.attr("x1", cols[3]).attr("x2", cols[3] + 12)
		.attr("y1", d => ageY(d)).attr("y2", d => ageY(d))
		.style("stroke", "#555")
		.style("stroke-width", 0.9);
tbl.selectAll(".age-label")
	.data(ageLabels)
	.join("text")
		.attr("class", "age-label")
		.attr("x", cols[3] + 15)
		.attr("y", d => ageY(d) + 4)
		.style("font-size", "11px")
		.style("fill", "#222")
		.text(d => d.toFixed(3));

// tie lines between the section and the time scale
svg.append("path")
	.attr("d", `M${colX + colW},${y(tieSection[0])}H1197L1203,${ageY(tieAge[0])}H${cols[0]}`)
	.style("fill", "none")
	.style("stroke", "#111")
	.style("stroke-width", 1.3);
svg.append("path")
	.attr("d", `M${colX + colW},${y(tieSection[1])}L${cols[0]},${ageY(tieAge[1])}`)
	.style("fill", "none")
	.style("stroke", "#111")
	.style("stroke-width", 1.3);
</script>
</body>
</html>
